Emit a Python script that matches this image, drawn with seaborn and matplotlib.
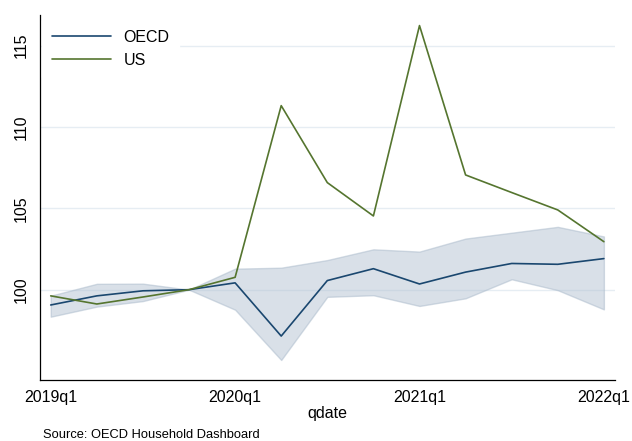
import matplotlib
matplotlib.use("Agg")
import matplotlib.pyplot as plt
import seaborn as sns
import pandas as pd
import numpy as np

quarters = ["2019q1", "2019q2", "2019q3", "2019q4", "2020q1", "2020q2", "2020q3",
            "2020q4", "2021q1", "2021q2", "2021q3", "2021q4", "2022q1"]
oecd = [99.06, 99.62, 99.93, 100.0, 100.42, 97.15, 100.56, 101.29, 100.35, 101.08, 101.61, 101.56, 101.91]
us = [99.62, 99.12, 99.55, 100.0, 100.76, 111.31, 106.58, 104.53, 116.23, 107.05, 105.97, 104.9, 102.95]
band_high = [99.63, 100.36, 100.37, 100.0, 101.29, 101.35, 101.82, 102.48, 102.34, 103.14, 103.5, 103.86, 103.27]
band_low = [98.34, 98.96, 99.3, 100.0, 98.77, 95.68, 99.56, 99.66, 99.0, 99.47, 100.64, 99.97, 98.79]
tick_labels = ["2019q1", "2020q1", "2021q1", "2022q1"]
y_ticks = [100, 105, 110, 115]

sns.set_style("white")
plt.rcParams["font.family"] = ["Liberation Sans", "DejaVu Sans"]
plt.rcParams["text.color"] = "black"
plt.rcParams["axes.labelcolor"] = "black"
plt.rcParams["xtick.color"] = "black"
plt.rcParams["ytick.color"] = "black"

idx = np.arange(len(quarters))
df = pd.DataFrame({
    "qdate": np.concatenate([idx, idx]),
    "value": oecd + us,
    "series": ["OECD"] * len(oecd) + ["US"] * len(us),
})

fig = plt.figure(figsize=(6.32, 4.41), dpi=100)
ax = fig.add_axes([0.0638, 0.1376, 0.9092, 0.8284])

for yv in y_ticks:
    ax.axhline(yv, color="#e6edf3", lw=1.0, zorder=0)

ax.fill_between(idx, band_low, band_high, facecolor="#b4c3d3", alpha=0.5,
                edgecolor="#a9b9ca", lw=1.0, zorder=1)

sns.lineplot(data=df, x="qdate", y="value", hue="series",
             palette={"OECD": "#1a476f", "US": "#55752f"}, lw=1.2, ax=ax, zorder=3)

ax.set_xlim(-0.226, 12.24)
ax.set_ylim(94.43, 116.88)
ax.set_xticks([quarters.index(t) for t in tick_labels])
ax.set_xticklabels(tick_labels)
ax.set_yticks(y_ticks)
ax.set_yticklabels([str(v) for v in y_ticks], rotation=90, va="center")
ax.tick_params(axis="both", labelsize=11.5, length=5, width=0.8, colors="black", direction="out")
ax.tick_params(axis="x", pad=2)
ax.tick_params(axis="y", pad=3)
ax.set_xlabel("qdate", fontsize=11.5, labelpad=1, color="black")
ax.set_ylabel("")
for s in ["top", "right"]:
    ax.spines[s].set_visible(False)
for s in ["left", "bottom"]:
    ax.spines[s].set_color("#000000")
    ax.spines[s].set_linewidth(0.9)

leg = ax.legend(loc="upper left", bbox_to_anchor=(0.0, 0.99), frameon=True, fontsize=11.5,
                handlelength=3.7, handletextpad=0.8, borderaxespad=0.3, labelspacing=0.5)
leg.get_frame().set_edgecolor("white")
leg.get_frame().set_facecolor("white")
leg.get_frame().set_alpha(1.0)
leg.get_frame().set_boxstyle("square", pad=0.2)
for t in leg.get_texts():
    t.set_color("black")

fig.text(0.068, 0.0, "Source: OECD Household Dashboard", fontsize=9.3, color="#000000",
         ha="left", va="bottom")

fig.savefig("out.png", dpi=100)
